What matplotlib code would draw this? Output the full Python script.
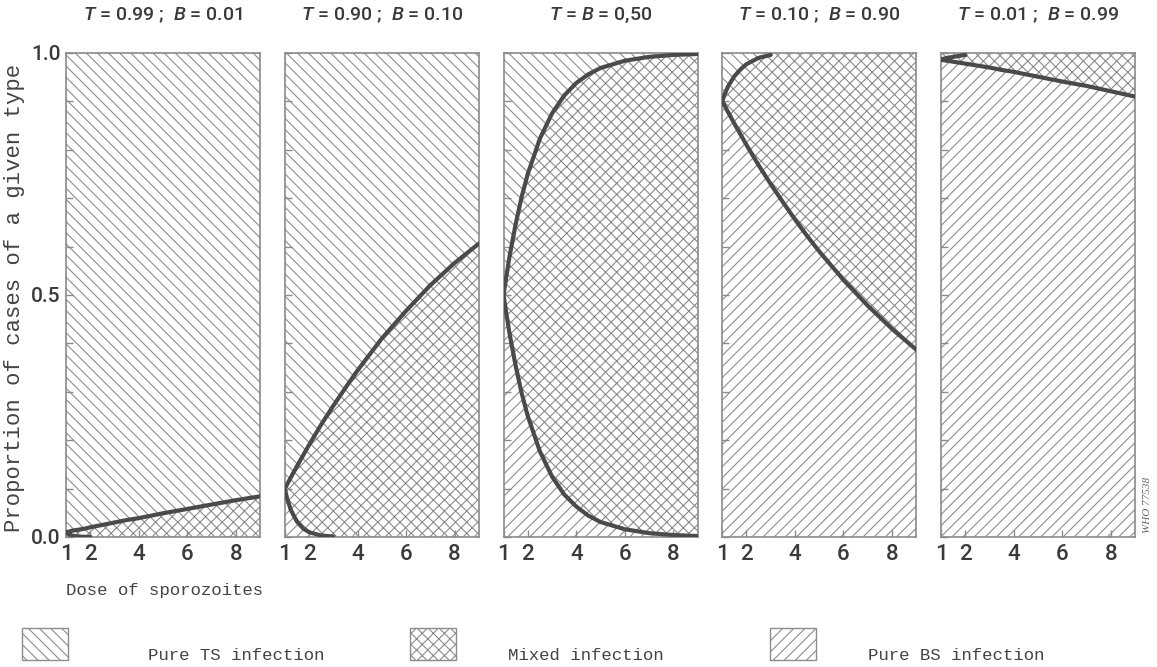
import matplotlib
matplotlib.use('Agg')
import matplotlib.pyplot as plt
from matplotlib.patches import Rectangle
from matplotlib import font_manager

# ---------------- data ----------------
dose = [1, 1.1, 1.25, 1.5, 1.75, 2, 2.5, 3, 3.5, 4, 4.5, 5, 6, 7, 8, 9]

titles = [r'$T$ = 0.99 ;  $B$ = 0.01',
          r'$T$ = 0.90 ;  $B$ = 0.10',
          r'$T$ = $B$ = 0,50',
          r'$T$ = 0.10 ;  $B$ = 0.90',
          r'$T$ = 0.01 ;  $B$ = 0.99']

# upper boundary = 1 - proportion of pure TS infection
# lower boundary = proportion of pure BS infection
p1_upper = [.010, .011, .013, .015, .017, .020, .025, .030, .035, .039, .044, .049, .058, .067, .076, .084]
p1_lower = [.010, .006, .003, .001, .0004, .0001, 0, 0, 0, 0, 0, 0, 0, 0, 0, 0]

p2_upper = [.100, .109, .123, .146, .168, .190, .232, .271, .308, .344, .377, .410, .467, .520, .566, .606]
p2_lower = [.100, .079, .056, .032, .018, .010, .003, .001, 0, 0, 0, 0, 0, 0, 0, 0]

p3_upper = [.500, .533, .580, .646, .703, .750, .823, .875, .912, .938, .956, .969, .984, .992, .996, .998]
p3_lower = [.500, .467, .420, .354, .297, .250, .177, .125, .088, .063, .044, .031, .016, .008, .004, .002]

p4_upper = [.900, .915, .932, .952, .966, .977, .990, .996, 1, 1, 1, 1, 1, 1, 1, 1]
p4_lower = [.900, .891, .877, .854, .832, .810, .768, .729, .692, .656, .622, .590, .531, .478, .430, .387]

p5_upper = [.986, .988, .990, .992, .994, .996, 1, 1, 1, 1, 1, 1, 1, 1, 1, 1]
p5_lower = [.986, .985, .984, .982, .980, .978, .974, .970, .965, .961, .956, .951, .941, .932, .921, .910]

uppers = [p1_upper, p2_upper, p3_upper, p4_upper, p5_upper]
lowers = [p1_lower, p2_lower, p3_lower, p4_lower, p5_lower]

x_ticks = [1, 2, 4, 6, 8]
y_ticklabels = {0: '0.0', 5: '0.5', 10: '1.0'}

legend_labels = ['Pure TS infection', 'Mixed infection', 'Pure BS infection']

# ---------------- style ----------------
available = {f.name for f in font_manager.fontManager.ttflist}
SANS = 'Liberation Sans Narrow' if 'Liberation Sans Narrow' in available else 'Roboto'
NARROW = [SANS, 'DejaVu Sans']
MONO = ['Liberation Mono', 'DejaVu Sans Mono']
plt.rcParams['font.family'] = NARROW
plt.rcParams['mathtext.fontset'] = 'custom'
plt.rcParams['mathtext.it'] = SANS + ':italic:medium'
plt.rcParams['mathtext.rm'] = SANS + ':medium'
plt.rcParams['hatch.linewidth'] = 0.8

HATCH_C = '#8c8c8c'
LINE_C = '#4a4a4a'
SPINE_C = '#8a8a8a'
TEXT_C = '#3a3a3a'
H_TS, H_MIX, H_BS = '\\\\\\', 'xxx', '///'

W, H = 1157, 667
fig = plt.figure(figsize=(W / 100, H / 100), dpi=100)


def fy(px):
    """figure fraction from a pixel row counted from the top"""
    return 1 - px / H


ax_w = 194 / W
ax_h = 484 / H
ax_b = fy(537)

for i in range(5):
    left = (66 + 218.75 * i) / W
    ax = fig.add_axes([left, ax_b, ax_w, ax_h])
    up, lo = uppers[i], lowers[i]
    ax.fill_between(dose, 0, lo, facecolor='white', edgecolor=HATCH_C, linewidth=0, hatch=H_BS)
    ax.fill_between(dose, lo, up, facecolor='white', edgecolor=HATCH_C, linewidth=0, hatch=H_MIX)
    ax.fill_between(dose, up, 1, facecolor='white', edgecolor=HATCH_C, linewidth=0, hatch=H_TS)

    # visible parts of the boundaries
    n_lo = next((k for k, v in enumerate(lo) if v <= 0), len(lo))
    n_up = next((k for k, v in enumerate(up) if v >= 1), len(up))
    xs = dose[:n_lo][::-1] + dose[1:n_up]
    ys = lo[:n_lo][::-1] + up[1:n_up]
    ax.plot(xs, ys, color=LINE_C, lw=3, solid_capstyle='round', solid_joinstyle='round', zorder=5)

    ax.set_xlim(1, 9)
    ax.set_ylim(0, 1)
    for s in ax.spines.values():
        s.set_color(SPINE_C)
        s.set_linewidth(1.2)
    ax.set_xticks(x_ticks)
    ax.set_xticklabels([str(t) for t in x_ticks], fontsize=16, color=TEXT_C, fontweight='medium')
    ax.set_yticks([k / 10 for k in range(11)])
    ax.tick_params(axis='both', direction='in', color=SPINE_C, length=5, width=1)
    ax.tick_params(axis='x', pad=5)
    ax.tick_params(axis='y', pad=4)
    if i == 0:
        ax.set_yticklabels([y_ticklabels.get(k, '') for k in range(11)], fontsize=15,
                           color=TEXT_C, fontweight='medium')
    else:
        ax.set_yticklabels([])
    fig.text(left + ax_w / 2, fy(15), titles[i], ha='center', va='center',
             fontsize=14, color=TEXT_C, fontweight='medium')

fig.text(15 / W, fy(298), 'Proportion of cases of a given type', rotation=90,
         ha='center', va='center', family=MONO, fontsize=16, color='#444444')
fig.text(66 / W, fy(590), 'Dose of sporozoites', ha='left', va='center',
         family=MONO, fontsize=12.5, color='#444444')

fig.text(1147 / W, fy(505), 'WHO 77538', rotation=90, ha='center', va='center',
         family=['Liberation Serif', 'DejaVu Serif'], style='italic', fontsize=8, color='#666666')

# legend
hatches = [H_TS, H_MIX, H_BS]
box_x = [22, 410, 770]
text_x = [148, 508, 868]
for hx, bx, tx, lab in zip(hatches, box_x, text_x, legend_labels):
    fig.patches.append(Rectangle((bx / W, fy(660)), 46 / W, 32 / H,
                                 transform=fig.transFigure, facecolor='white',
                                 edgecolor=HATCH_C, linewidth=1, hatch=hx))
    fig.text(tx / W, fy(655), lab, ha='left', va='center', family=MONO,
             fontsize=12.5, color='#444444')

fig.savefig('out.png', dpi=100)
